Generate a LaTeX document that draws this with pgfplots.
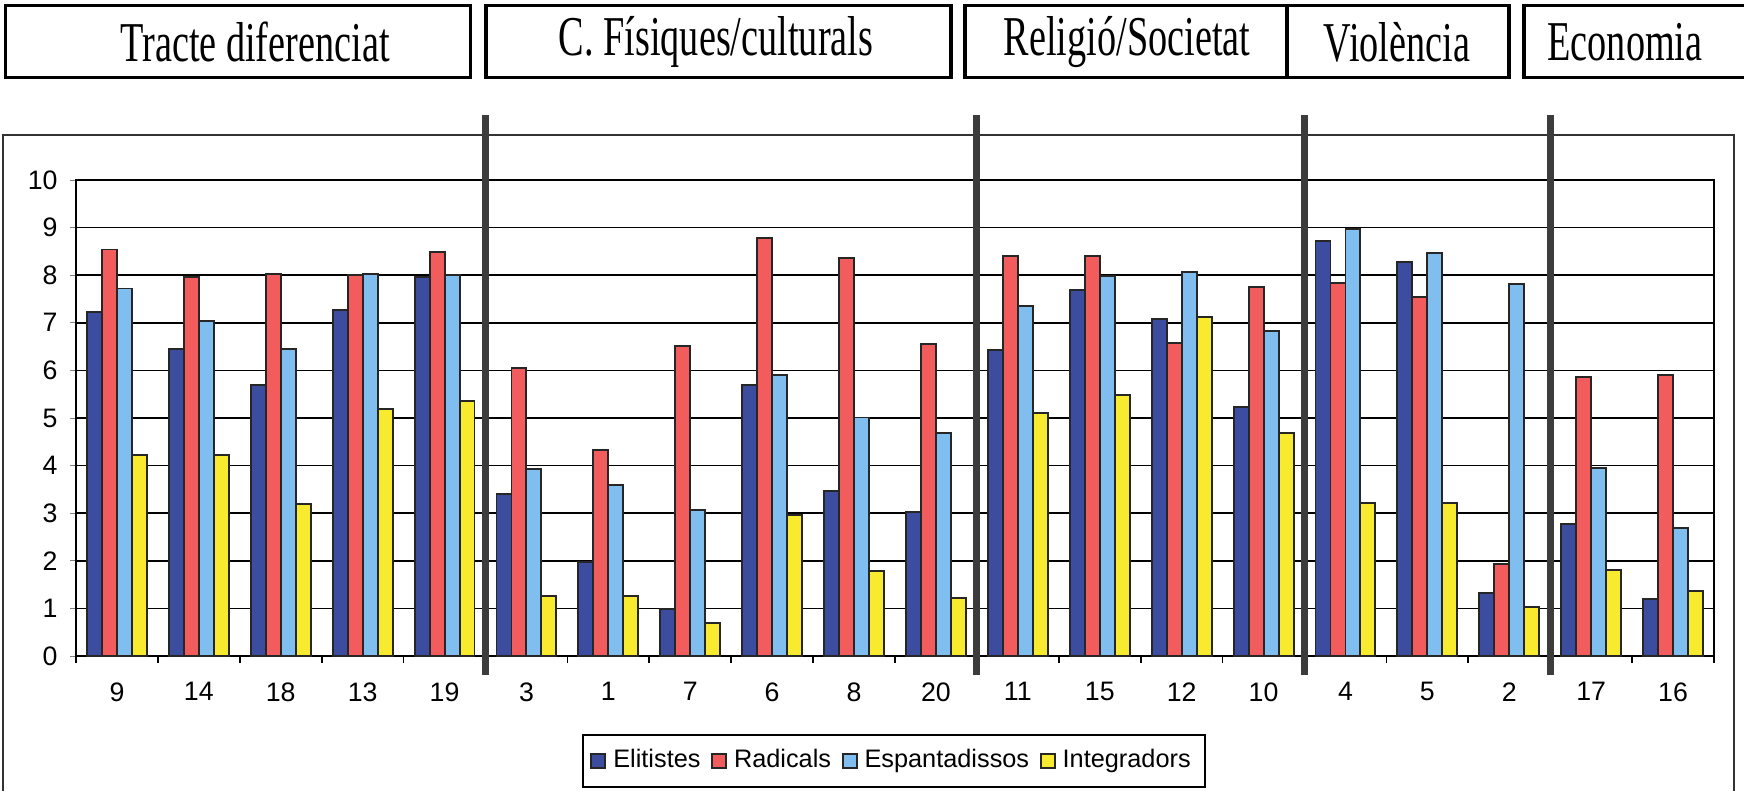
\documentclass[border=0pt]{standalone}
\usepackage{pgfplots}
\pgfplotsset{compat=1.18}
\usepackage{fontspec}
\setmainfont{Liberation Sans}
\newfontfamily\headfont{Liberation Serif}

\definecolor{elit}{RGB}{60,76,158}
\definecolor{radi}{RGB}{242,92,92}
\definecolor{espa}{RGB}{128,190,240}
\definecolor{inte}{RGB}{248,234,46}
\definecolor{sepgray}{RGB}{60,60,60}

\begin{document}
\begin{tikzpicture}
\useasboundingbox (0,0) rectangle (17.44,7.91);

% header boxes
\tikzset{hbox/.style={draw=black, line width=0.9pt}}
\draw[hbox] (0.056,7.131) rectangle (4.705,7.854);
\draw[hbox] (4.86,7.131) rectangle (9.51,7.854);
\draw[hbox] (9.65,7.131) rectangle (15.09,7.854);
\draw[hbox] (12.87,7.131) -- (12.87,7.854);
\draw[hbox] (17.44,7.854) -- (15.24,7.854) -- (15.24,7.131) -- (17.44,7.131);
\tikzset{htext/.style={font=\headfont\fontsize{16}{18}\selectfont, inner sep=0pt}}
\node[htext] at (2.55,7.49) {\scalebox{0.68}[1]{Tracte diferenciat}};
\node[htext] at (7.16,7.49) {\scalebox{0.68}[1]{C. Físiques/culturals}};
\node[htext] at (11.27,7.49) {\scalebox{0.68}[1]{Religió/Societat}};
\node[htext] at (13.97,7.49) {\scalebox{0.68}[1]{Violència}};
\node[htext] at (16.25,7.49) {\scalebox{0.68}[1]{Economia}};

% chart frame
\draw[line width=0.5pt, black!80] (0.033,0) -- (0.033,6.56) -- (17.34,6.56) -- (17.34,0);

\begin{axis}[
  at={(0.76cm,1.35cm)}, anchor=south west,
  scale only axis,
  width=16.38cm, height=4.76cm,
  xmin=-0.5, xmax=19.5, ymin=0, ymax=10,
  ybar=0pt, bar width=0.183,
  xtick={0,...,19},
  xticklabels={9,14,18,13,19,3,1,7,6,8,20,11,15,12,10,4,5,2,17,16},
  xtick style={draw=none},
  ytick={0,...,10},
  ytick align=outside, ytick pos=left,
  major tick length=0.06cm,
  ymajorgrids,
  grid style={black, line width=0.4pt},
  axis line style={black, line width=0.5pt},
  tick label style={font=\fontsize{7.6}{9}\selectfont},
  xticklabel style={yshift=-0.08cm},
  /pgf/number format/assume math mode=true,
  clip=false,
  every axis plot/.append style={draw=black!85, line width=0.55pt},
  legend image code/.code={\draw[#1] (0cm,-0.07cm) rectangle (0.14cm,0.07cm);},
  legend style={at={(0.4994,-0.2206)}, anchor=center, draw=black, line width=0.5pt,
    legend columns=4, font=\fontsize{7.2}{8}\selectfont,
    inner ysep=2pt, inner xsep=2pt,
    /tikz/every even column/.append style={column sep=1pt}},
]

% Elitistes
\addplot[fill=elit] coordinates {
 (0,7.23) (1,6.45) (2,5.69) (3,7.27) (4,7.96)
 (5,3.41) (6,1.97) (7,0.99) (8,5.69) (9,3.47) (10,3.03)
 (11,6.42) (12,7.69) (13,7.08) (14,5.23)
 (15,8.71) (16,8.27) (17,1.32)
 (18,2.77) (19,1.19)
};
% Radicals
\addplot[fill=radi] coordinates {
 (0,8.54) (1,7.96) (2,8.03) (3,8.00) (4,8.48)
 (5,6.05) (6,4.33) (7,6.51) (8,8.78) (9,8.37) (10,6.56)
 (11,8.41) (12,8.41) (13,6.58) (14,7.76)
 (15,7.84) (16,7.55) (17,1.94)
 (18,5.86) (19,5.90)
};
% Espantadissos
\addplot[fill=espa] coordinates {
 (0,7.72) (1,7.04) (2,6.45) (3,8.03) (4,8.00)
 (5,3.92) (6,3.59) (7,3.06) (8,5.91) (9,5.01) (10,4.68)
 (11,7.36) (12,7.98) (13,8.07) (14,6.82)
 (15,8.97) (16,8.46) (17,7.82)
 (18,3.94) (19,2.68)
};
% Integradors
\addplot[fill=inte] coordinates {
 (0,4.23) (1,4.23) (2,3.19) (3,5.18) (4,5.36)
 (5,1.27) (6,1.27) (7,0.69) (8,2.97) (9,1.78) (10,1.21)
 (11,5.10) (12,5.49) (13,7.12) (14,4.68)
 (15,3.22) (16,3.22) (17,1.03)
 (18,1.81) (19,1.36)
};
\legend{Elitistes,Radicals,Espantadissos,Integradors}

% ticks between categories
\pgfplotsinvokeforeach{-0.5,0.5,...,19.5}{
  \draw[black, line width=0.5pt] (axis cs:#1,0) -- ++(0pt,-0.07cm);
}
% group separators
\pgfplotsinvokeforeach{4.5,10.5,14.5,17.5}{
  \draw[sepgray, line width=2pt] (axis cs:#1,-0.4) -- (axis cs:#1,11.37);
}
\end{axis}
\end{tikzpicture}
\end{document}
